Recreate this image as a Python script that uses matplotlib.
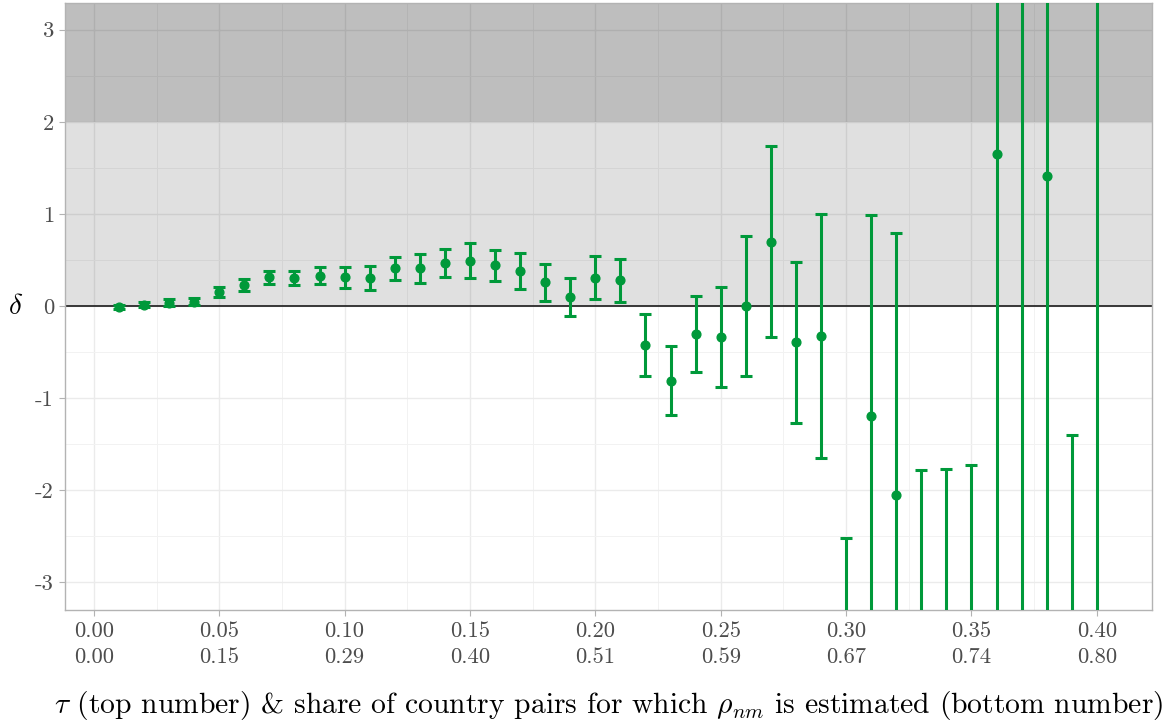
import matplotlib
matplotlib.use("Agg")
import matplotlib.pyplot as plt
import numpy as np

plt.rcParams['font.family'] = ['cmr10', 'DejaVu Serif']
plt.rcParams['mathtext.fontset'] = 'cm'
plt.rcParams['axes.unicode_minus'] = False

# ---- data ----
tau = [0.01, 0.02, 0.03, 0.04, 0.05, 0.06, 0.07, 0.08, 0.09, 0.10,
       0.11, 0.12, 0.13, 0.14, 0.15, 0.16, 0.17, 0.18, 0.19, 0.20,
       0.21, 0.22, 0.23, 0.24, 0.25, 0.26, 0.27, 0.28, 0.29, 0.30,
       0.31, 0.32, 0.33, 0.34, 0.35, 0.36, 0.37, 0.38, 0.39, 0.40]
delta = [-0.01, 0.014, 0.036, 0.047, 0.155, 0.228, 0.311, 0.303, 0.329, 0.311,
         0.30, 0.408, 0.408, 0.466, 0.491, 0.441, 0.379, 0.256, 0.098, 0.307,
         0.282, -0.423, -0.809, -0.303, -0.336, -0.004, 0.697, -0.394, -0.321, -4.6,
         -1.197, -2.047, -4.2, -4.3, -4.4, 1.652, 4.0, 1.408, -4.6, -4.0]
lower = [-0.03, -0.01, 0.00, 0.01, 0.10, 0.16, 0.24, 0.23, 0.24, 0.20,
         0.17, 0.28, 0.25, 0.31, 0.30, 0.274, 0.18, 0.058, -0.108, 0.072,
         0.043, -0.762, -1.185, -0.711, -0.877, -0.762, -0.339, -1.268, -1.65, -6.7,
         -3.38, -4.88, -6.6, -6.8, -7.1, -4.5, -4.0, -5.0, -7.8, -12.0]
upper = [0.01, 0.04, 0.08, 0.09, 0.21, 0.29, 0.38, 0.38, 0.42, 0.42,
         0.43, 0.53, 0.56, 0.62, 0.68, 0.607, 0.574, 0.452, 0.30, 0.538,
         0.516, -0.087, -0.433, 0.105, 0.206, 0.755, 1.733, 0.48, 1.0, -2.515,
         0.987, 0.79, -1.785, -1.773, -1.725, 7.8, 12.0, 7.8, -1.399, 4.0]

xticks = [0.00, 0.05, 0.10, 0.15, 0.20, 0.25, 0.30, 0.35, 0.40]
share = ["0.00", "0.15", "0.29", "0.40", "0.51", "0.59", "0.67", "0.74", "0.80"]
yticks = [-3, -2, -1, 0, 1, 2, 3]

GREEN = '#00993a'

fig = plt.figure(figsize=(11.64, 7.23), dpi=100)
ax = fig.add_axes([65/1164, 1 - 610/723, (1152-65)/1164, (610-3)/723])

ax.set_xlim(-0.0115, 0.422)
ax.set_ylim(-3.3, 3.29)

ax.set_axisbelow(True)
ax.set_xticks(xticks)
ax.set_xticks(np.arange(0.025, 0.42, 0.05), minor=True)
ax.set_yticks(yticks)
ax.set_yticks(np.arange(-2.5, 3.0, 1.0), minor=True)
ax.grid(True, which='major', color='#ebebeb', lw=1.0)
ax.grid(True, which='minor', color='#f2f2f2', lw=0.7)

# shaded bands
ax.axhspan(0, 10, color='black', alpha=0.12, lw=0, zorder=1)
ax.axhspan(2, 10, color='black', alpha=0.15, lw=0, zorder=1)

ax.axhline(0, color='#1a1a1a', lw=1.2, zorder=2)

yerr = [np.array(delta) - np.array(lower), np.array(upper) - np.array(delta)]
ax.errorbar(tau, delta, yerr=yerr, fmt='o', color=GREEN, ms=6.3,
            elinewidth=2.2, capsize=4.5, capthick=2.2, zorder=3)

ax.set_xticklabels([f"{t:.2f}\n{s}" for t, s in zip(xticks, share)],
                   linespacing=1.45)
ax.set_yticklabels([str(v) for v in yticks])
ax.tick_params(which='major', length=4, width=0.8, color='#b3b3b3',
               labelcolor='#4d4d4d', labelsize=16.3, pad=4)
ax.tick_params(which='minor', length=0)

for s in ax.spines.values():
    s.set_color('#b3b3b3')
    s.set_linewidth(1.0)

ax.set_xlabel(r"$\tau$ (top number) & share of country pairs for which $\rho_{nm}$ is estimated (bottom number)",
              fontsize=21.3, labelpad=16)
ax.set_ylabel(r"$\delta$", fontsize=21, rotation=0, labelpad=14, va='center')

fig.savefig("out.png", dpi=100)
